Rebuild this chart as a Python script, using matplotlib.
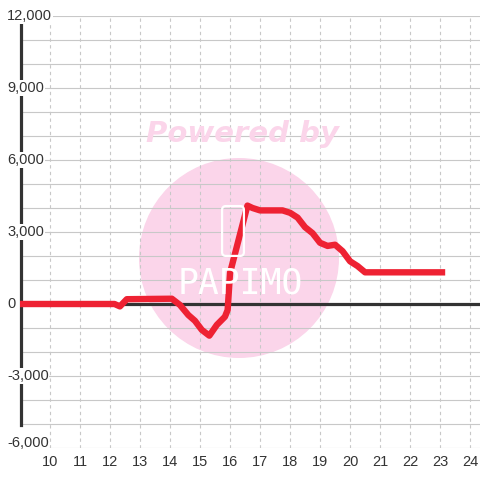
import matplotlib
matplotlib.use("Agg")
import matplotlib.pyplot as plt
from matplotlib.patches import Circle, FancyBboxPatch
from matplotlib.transforms import offset_copy

# Data
hours = [9.0, 12.15, 12.33, 12.56, 14.06, 14.33, 14.61, 14.83, 15.06, 15.31,
         15.56, 15.83, 15.92, 16.0, 16.58, 16.75, 17.0, 17.75, 18.0, 18.25,
         18.5, 18.75, 19.0, 19.25, 19.5, 19.75, 20.0, 20.25, 20.5, 23.17]
values = [0, 0, -100, 200, 220, -40, -460, -700, -1080, -1320,
          -870, -530, -250, 1300, 4100, 4000, 3900, 3900, 3800, 3600,
          3200, 2950, 2550, 2420, 2470, 2200, 1780, 1580, 1320, 1320]

x_ticks = list(range(10, 25))
y_ticks = [-6000, -3000, 0, 3000, 6000, 9000, 12000]
y_grid = list(range(-6000, 12001, 1000))

TEXT = "#333333"
GRID = "#c8c8c8"
RED = "#ee2233"
PINK = "#fbd5ea"

plt.rcParams["font.family"] = ["Liberation Sans", "DejaVu Sans"]

fig = plt.figure(figsize=(4.8, 4.8), dpi=100)
ax = fig.add_axes([20 / 480, 32 / 480, 460 / 480, 432 / 480])
ax.set_xlim(9.0, 24.33)
ax.set_ylim(-6000, 12000)
for s in ax.spines.values():
    s.set_visible(False)

# grid
for y in y_grid:
    ax.axhline(y, color=GRID, lw=0.8, zorder=1)
for x in x_ticks:
    ax.axvline(x, color=GRID, lw=0.8, ls=(0, (3, 3)), zorder=1)

# watermark
ax.add_patch(Circle((239 / 480, 1 - 258 / 480), 100 / 480, transform=fig.transFigure,
                    facecolor=PINK, edgecolor="none", zorder=0.5))
fig.text(242 / 480, 1 - 134 / 480, "Powered by", color=PINK, fontsize=21,
         fontweight="bold", fontstyle="italic", ha="center", va="center",
         family=["DejaVu Sans"])
fig.patches.append(FancyBboxPatch((224 / 480, 1 - 254 / 480), 18 / 480, 46 / 480,
                                  boxstyle="round,pad=0.004,rounding_size=0.008",
                                  transform=fig.transFigure, facecolor="none",
                                  edgecolor="white", lw=1.6, figure=fig))
fig.text(240 / 480, 1 - 284 / 480, "PAPIMO", color="white", fontsize=25,
         ha="center", va="center", family=["DejaVu Sans Mono"])

# axis lines
ax.axhline(0, color=TEXT, lw=2.3, zorder=2)
ax.plot([9.03, 9.03], [-5050, 11650], color=TEXT, lw=2.3, zorder=2, clip_on=False)

ax.plot(hours, values, color=RED, lw=4.6, solid_joinstyle="round",
        solid_capstyle="butt", zorder=3)

# ticks
ax.set_xticks(x_ticks)
ax.tick_params(axis="x", length=0, pad=5, labelsize=10.5, labelcolor=TEXT)
ax.set_yticks([])
ytrans = ax.get_yaxis_transform()
for y in y_ticks:
    tr = offset_copy(ytrans, fig=fig, y=5 if y == y_ticks[0] else 0, units="dots")
    ax.text(-13 / 460, y, f"{y:,}", transform=tr, ha="left", va="center",
            fontsize=10.5, color=TEXT, zorder=4, clip_on=False,
            bbox=dict(facecolor="white", edgecolor="none", pad=0.5))

fig.savefig("out.png", dpi=100)
